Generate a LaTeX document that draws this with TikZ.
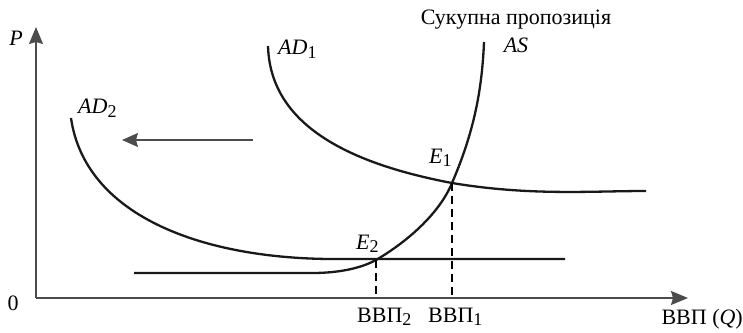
\documentclass[tikz,border=0pt]{standalone}
\usepackage{fontspec}
\setmainfont{Liberation Serif}
\usetikzlibrary{arrows.meta}
\newcommand{\lowsub}[1]{\raisebox{-0.35ex}{\fontsize{18}{20}\selectfont #1}}
\tikzset{
  axisline/.style={draw=black!70, line width=1.4pt, -{Stealth[length=17pt,width=14pt,inset=2pt]}},
  curve/.style={draw=black!90, line width=2.3pt},
  dashline/.style={draw=black, line width=1.5pt, dash pattern=on 8pt off 5pt},
  shiftarrow/.style={draw=black!70, line width=1.4pt, -{Stealth[length=16pt,width=14pt,inset=2pt]}},
  lbl/.style={inner sep=0pt, font=\fontsize{22}{25}\selectfont}
}
\begin{document}
\begin{tikzpicture}[x=1pt,y=-1pt]
\useasboundingbox (0,0) rectangle (743,332);
% axes
\coordinate (O) at (36,298);
\coordinate (Ytop) at (36,27);
\coordinate (Xend) at (688,298);
\draw[axisline] (O) -- (Ytop);
\draw[axisline] (O) -- (Xend);
% points
\coordinate (E1) at (452,183);
\coordinate (E2) at (376,260);
\coordinate (F1) at (452,298);
\coordinate (F2) at (376,298);
% AD1
\coordinate (ad1s) at (268,46);
\coordinate (ad1e) at (646,191);
\draw[curve] (ad1s) .. controls (270,115) and (330,160) .. (E1) .. controls (530,196) and (590,191) .. (ad1e);
% AD2
\coordinate (ad2s) at (71,118);
\coordinate (ad2m) at (330,259);
\coordinate (ad2e) at (565,259);
\draw[curve] (ad2s) .. controls (85,215) and (200,258) .. (ad2m) -- (ad2e);
% AS
\coordinate (ass) at (134,273);
\coordinate (asm) at (312,273);
\coordinate (ast) at (484,42);
\draw[curve] (ass) -- (asm) .. controls (345,273) and (365,266) .. (E2) .. controls (410,240) and (440,212) .. (E1) .. controls (474,132) and (482,90) .. (ast);
% dashed
\draw[dashline] (E1) -- (F1);
\draw[dashline] (E2) -- (F2);
% shift arrow
\coordinate (sa) at (253,140);
\coordinate (sb) at (122,140);
\draw[shiftarrow] (sa) -- (sb);
% labels
\node[lbl] (Pl) at (16,38) {\itshape P};
\node[lbl] (zero) at (13,303) {0};
\node[lbl] (title) at (516,20) {Сукупна пропозиція};
\node[lbl] (ASl) at (516,45) {\itshape AS};
\node[lbl, anchor=west] (AD1l) at (278,49) {{\itshape AD}\lowsub{1}};
\node[lbl, anchor=west] (AD2l) at (78,108) {{\itshape AD}\lowsub{2}};
\node[lbl, anchor=west] (E1l) at (429,158) {{\itshape E}\lowsub{1}};
\node[lbl, anchor=west] (E2l) at (356,244) {{\itshape E}\lowsub{2}};
\node[lbl, anchor=west] (V2) at (357,317) {ВВП\lowsub{2}};
\node[lbl, anchor=west] (V1) at (428,317) {ВВП\lowsub{1}};
\node[lbl, anchor=east] (VQ) at (743,319) {ВВП ({\itshape Q})};
\end{tikzpicture}
\end{document}
